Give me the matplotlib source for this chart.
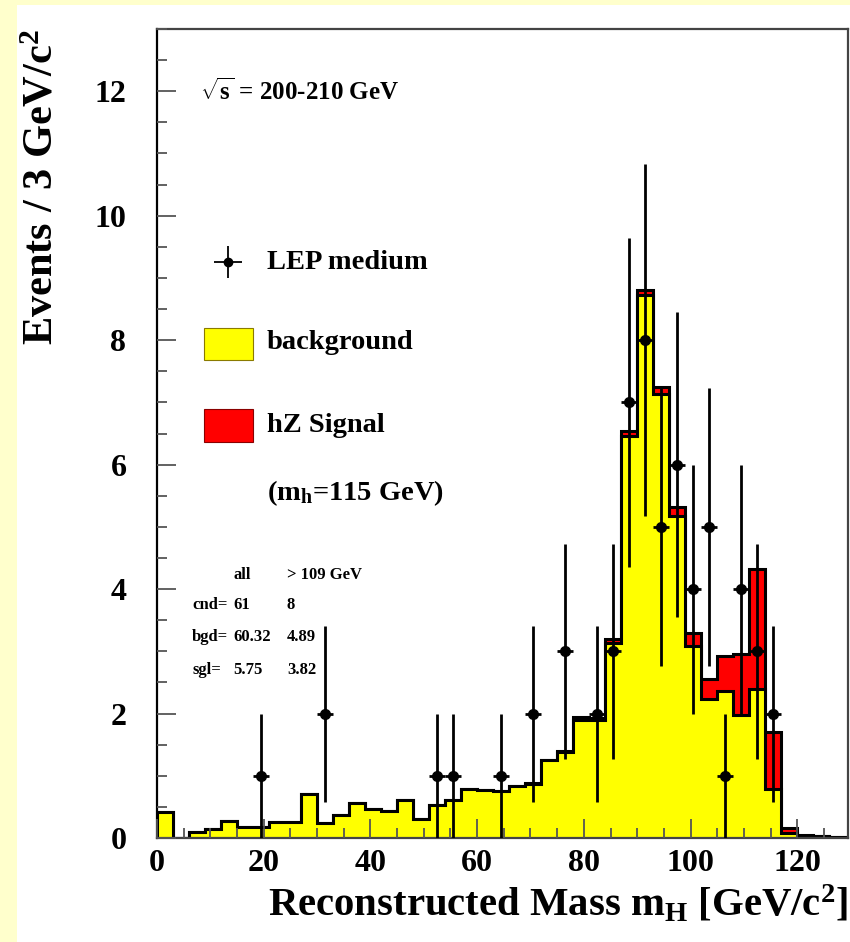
import numpy as np
import matplotlib
matplotlib.use('Agg')
import matplotlib.pyplot as plt
from matplotlib.patches import Rectangle
from matplotlib.ticker import MultipleLocator

plt.rcParams['font.family'] = ['Liberation Serif', 'DejaVu Serif']
plt.rcParams['font.weight'] = 'bold'
plt.rcParams['axes.labelweight'] = 'bold'
plt.rcParams['mathtext.fontset'] = 'custom'
plt.rcParams['mathtext.rm'] = 'Liberation Serif:bold'
plt.rcParams['mathtext.bf'] = 'Liberation Serif:bold'
plt.rcParams['mathtext.it'] = 'Liberation Serif:bold:italic'

# 3 GeV bins from 0 to 129
edges = np.arange(44) * 3

# expected background per bin
background = np.array([
    0.41, 0.00, 0.09, 0.14, 0.27, 0.18, 0.18, 0.25, 0.25, 0.71,
    0.24, 0.37, 0.57, 0.46, 0.44, 0.61, 0.30, 0.53, 0.61, 0.79,
    0.77, 0.75, 0.83, 0.87, 1.25, 1.38, 1.90, 1.89, 3.13, 6.46,
    8.72, 7.14, 5.18, 3.09, 2.23, 2.37, 1.98, 2.39, 0.78, 0.08,
    0.04, 0.03, 0.02])

# hZ signal (m_h = 115 GeV), stacked on top of background
signal = np.array([
    0.00, 0.00, 0.00, 0.00, 0.00, 0.00, 0.00, 0.00, 0.00, 0.00,
    0.00, 0.00, 0.00, 0.00, 0.00, 0.00, 0.00, 0.00, 0.00, 0.00,
    0.00, 0.00, 0.00, 0.01, 0.01, 0.02, 0.05, 0.04, 0.07, 0.08,
    0.09, 0.11, 0.14, 0.20, 0.32, 0.56, 0.97, 1.94, 0.92, 0.08,
    0.01, 0.00, 0.00])

# observed candidates (bin centres and counts)
data_mass = [19.5, 31.5, 52.5, 55.5, 64.5, 70.5, 76.5, 82.5, 85.5, 88.5,
             91.5, 94.5, 97.5, 100.5, 103.5, 106.5, 109.5, 112.5, 115.5]
data_count = [1, 2, 1, 1, 1, 2, 3, 2, 3, 7,
              8, 5, 6, 4, 5, 1, 4, 3, 2]

fig = plt.figure(figsize=(8.5, 9.42), dpi=100)
fig.patch.set_facecolor('#FFFFCC')
fig.add_artist(Rectangle((0.02, 0), 0.98, 0.9947, transform=fig.transFigure,
                         facecolor='white', edgecolor='none', zorder=-10))

ax = fig.add_axes([0.1847, 0.1104, 0.8129, 0.8588])
ax.set_facecolor('white')

total = background + signal
ax.stairs(total, edges, fill=True, color='#FF0000', zorder=1)
ax.stairs(total, edges, color='black', lw=2.2, zorder=1.1)
ax.stairs(background, edges, fill=True, color='#FFFF00', zorder=1.2)
ax.stairs(background, edges, color='black', lw=2.2, zorder=1.3)

counts = np.array(data_count)
ax.errorbar(data_mass, counts, yerr=np.sqrt(counts), xerr=1.5, fmt='o',
            color='black', ms=7, elinewidth=2, capsize=0, zorder=3)

ax.set_xlim(0, 129.5)
ax.set_ylim(0, 13)
ax.xaxis.set_major_locator(MultipleLocator(20))
ax.xaxis.set_minor_locator(MultipleLocator(5))
ax.yaxis.set_major_locator(MultipleLocator(2))
ax.yaxis.set_minor_locator(MultipleLocator(0.5))
ax.set_axisbelow(False)
ax.tick_params(which='both', direction='in', top=False, right=False,
               color='#555555', width=1.3)
ax.tick_params(which='major', length=14, labelsize=23)
ax.tick_params(which='minor', length=7)
ax.tick_params(axis='y', pad=22)
ax.tick_params(axis='x', pad=8)
for s in ax.spines.values():
    s.set_linewidth(1.6)
    s.set_color('#444444')
ax.spines['left'].set_color('black')

ax.set_xlabel(r'Reconstructed Mass m$_{\mathrm{H}}$ [GeV/c$^{\mathrm{2}}$]',
              fontsize=29.3, loc='right')
ax.xaxis.set_label_coords(1.0, -0.056)
ax.set_ylabel(r'Events / 3 GeV/c$^{\mathrm{2}}$', fontsize=30.5, loc='top')
ax.yaxis.set_label_coords(-0.138, 1.0)

# header text
ax.text(0.062, 0.922, r'$\sqrt{\mathrm{s}}$ = 200-210 GeV', transform=ax.transAxes,
        fontsize=18, va='center', ha='left')

# legend drawn by hand
ax.errorbar([0.1027], [0.712], xerr=0.02, yerr=0.02, fmt='o', color='black',
            ms=6, elinewidth=1.3, capsize=0, transform=ax.transAxes, zorder=3)
ax.text(0.159, 0.712, 'LEP medium', transform=ax.transAxes, fontsize=20.5,
        va='center', ha='left')
ax.add_patch(Rectangle((0.068, 0.591), 0.071, 0.039, transform=ax.transAxes,
                       facecolor='#FFFF00', edgecolor='#8a7a00', lw=0.8))
ax.text(0.159, 0.613, 'background', transform=ax.transAxes, fontsize=20.5,
        va='center', ha='left')
ax.add_patch(Rectangle((0.068, 0.4895), 0.071, 0.0405, transform=ax.transAxes,
                       facecolor='#FF0000', edgecolor='#8a0000', lw=0.8))
ax.text(0.159, 0.5105, 'hZ Signal', transform=ax.transAxes, fontsize=20.5,
        va='center', ha='left')
ax.text(0.159, 0.4265, r'(m$_{\mathrm{h}}$=115 GeV)', transform=ax.transAxes,
        fontsize=20.5, va='center', ha='left')

# summary table
rows = [('', 'all', '> 109 GeV'),
        ('cnd=', '61', '8'),
        ('bgd=', '60.32', '4.89'),
        ('sgl=', '5.75', '3.82')]
row_y = [0.325, 0.288, 0.2485, 0.2077]
col_x = [0.0507, 0.110, 0.188]
for (a, b, c), y in zip(rows, row_y):
    for txt, x in zip((a, b, c), col_x):
        ax.text(x, y, txt, transform=ax.transAxes, fontsize=12,
                va='center', ha='left')

fig.savefig('out.png', dpi=100, facecolor=fig.get_facecolor())
